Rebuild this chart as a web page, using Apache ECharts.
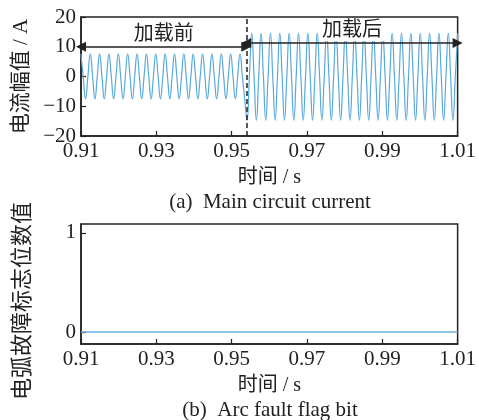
<!DOCTYPE html>
<html>
<head>
<meta charset="utf-8">
<script src="https://cdn.jsdelivr.net/npm/echarts@6/dist/echarts.min.js"></script>
<style>
  html, body { margin: 0; padding: 0; background: #fff; }
  #chart { width: 479px; height: 420px; }
</style>
</head>
<body>
<div id="chart"></div>
<script>
// ---- Data ----
// Sampling grid of the waveform readings (quarter-period readings: peak, zero, trough, zero)
const waveStart = 0.909968;   // s, time of first reading
const waveStep = 0.000621375; // s, spacing between readings

// Current readings before loading (A)
const currentBefore = [
  7.6, 0, -7.5, 0,  7.6, 0, -7.5, 0,  7.6, 0, -7.5, 0,  7.6, 0, -7.5, 0,
  7.6, 0, -7.5, 0,  7.6, 0, -7.5, 0,  7.6, 0, -7.5, 0,  7.6, 0, -7.5, 0,
  7.6, 0, -7.5, 0,  7.6, 0, -7.5, 0,  7.6, 0, -7.5, 0,  7.6, 0, -7.5, 0,
  7.6, 0, -7.5, 0,  7.6, 0, -7.5, 0,  7.6, 0, -7.5, 0,  7.6, 0, -7.5, 0,
  7.6, 0, -7.5, 0,  7.6, 0, -7.5
];
// Current readings after loading (A)
const currentAfter = [
  -14.7, 0, 14.5, 0,  -14.7, 0, 14.5, 0,  -14.7, 0, 14.5, 0,  -14.7, 0, 14.5, 0,
  -14.7, 0, 14.5, 0,  -14.7, 0, 14.5, 0,  -14.7, 0, 14.5, 0,  -14.7, 0, 14.5, 0,
  -14.7, 0, 14.5, 0,  -14.7, 0, 14.5, 0,  -14.7, 0, 14.5, 0,  -14.7, 0, 14.5, 0,
  -14.7, 0, 14.5, 0,  -14.7, 0, 14.5, 0,  -14.7, 0, 14.5, 0,  -14.7, 0, 14.5, 0,
  -14.7, 0, 14.5, 0,  -14.7, 0, 14.5, 0,  -14.7, 0, 14.5, 0,  -14.7, 0, 14.5, 0,
  -14.7, 0, 14.5, 0,  -14.7, 0, 14.5, 0,  -14.7, 0, 14.5
];

// Arc fault flag
const flagTimes = [0.91, 1.01];
const flagValues = [0, 0];

// Axis ticks
const xTicks = [0.91, 0.93, 0.95, 0.97, 0.99, 1.01];
const flagTicks = [0, 1];

// Annotations
const switchTime = 0.9539;
const beforeSpan = [0.91, switchTime];
const afterSpan = [switchTime, 1.01];
const beforeLevel = 10;
const afterLevel = 11.3;
const beforeLabel = '加载前';
const afterLabel = '加载后';

// Texts
const xName = '时间 / s';
const yNameTop = '电流幅值 / A';
const yNameBottom = '电弧故障标志位数值';
const captionTop = '(a)  Main circuit current';
const captionBottom = '(b)  Arc fault flag bit';

// ---- Build ----
const currentValues = currentBefore.concat(currentAfter);
const currentData = currentValues.map((v, i) => [waveStart + i * waveStep, v]);
const flagData = flagTimes.map((t, i) => [t, flagValues[i]]);

const FONT = "'Liberation Serif', 'Noto Sans CJK SC', serif";
const TXT = '#222';
const WAVE = '#5aa9dc';

function xAxisCfg(gi) {
  return {
    type: 'value', gridIndex: gi, min: 0.91, max: 1.01,
    axisLine: { show: true, onZero: false, lineStyle: { color: TXT, width: 1.5 } },
    splitLine: { show: false },
    axisTick: { inside: true, length: 5, customValues: xTicks, lineStyle: { color: TXT, width: 1.2 } },
    axisLabel: { customValues: xTicks, formatter: v => v.toFixed(2), fontSize: 21, margin: 5, color: TXT, fontFamily: FONT },
    name: xName, nameLocation: 'middle', nameGap: 32,
    nameTextStyle: { fontSize: 20, color: TXT, fontFamily: FONT }
  };
}

const option = {
  animation: false,
  backgroundColor: '#fff',
  grid: [
    { left: 81, top: 17, width: 379, height: 119, show: true, borderColor: TXT, borderWidth: 1.5, backgroundColor: 'transparent' },
    { left: 81, top: 224, width: 379, height: 120, show: true, borderColor: TXT, borderWidth: 1.5, backgroundColor: 'transparent' }
  ],
  xAxis: [xAxisCfg(0), xAxisCfg(1)],
  yAxis: [
    {
      type: 'value', gridIndex: 0, min: -20, max: 20, interval: 10,
      axisLine: { show: true, onZero: false, lineStyle: { color: TXT, width: 1.5 } },
      splitLine: { show: false },
      axisTick: { inside: true, length: 5, lineStyle: { color: TXT, width: 1.2 } },
      axisLabel: { formatter: v => String(v).replace('-', '\u2212'), fontSize: 21, margin: 5, color: TXT, fontFamily: FONT },
      name: yNameTop, nameLocation: 'middle', nameGap: 46,
      nameTextStyle: { fontSize: 21, color: TXT, fontFamily: FONT }
    },
    {
      type: 'value', gridIndex: 1, min: -0.12, max: 1.09,
      axisLine: { show: true, onZero: false, lineStyle: { color: TXT, width: 1.5 } },
      splitLine: { show: false },
      axisTick: { inside: true, length: 5, customValues: flagTicks, lineStyle: { color: TXT, width: 1.2 } },
      axisLabel: { customValues: flagTicks, fontSize: 21, margin: 5, color: TXT, fontFamily: FONT }
    }
  ],
  graphic: [
    { type: 'text', x: 23, y: 301, rotation: Math.PI / 2,
      style: { text: yNameBottom, fontSize: 22, fill: TXT, fontFamily: FONT, align: 'center', verticalAlign: 'middle' } },
    { type: 'text', x: 270, y: 202,
      style: { text: captionTop, fontSize: 21, fill: TXT, fontFamily: FONT, align: 'center', verticalAlign: 'middle' } },
    { type: 'text', x: 270, y: 410,
      style: { text: captionBottom, fontSize: 21, fill: TXT, fontFamily: FONT, align: 'center', verticalAlign: 'middle' } }
  ],
  series: [
    {
      type: 'line', xAxisIndex: 0, yAxisIndex: 0, data: currentData,
      showSymbol: false, smooth: 0.5, clip: true,
      lineStyle: { color: WAVE, width: 1.2 },
      markLine: {
        silent: true,
        symbol: ['triangle', 'triangle'], symbolSize: [10, 10],
        lineStyle: { color: TXT, width: 1.5, type: 'solid' },
        label: { show: true, position: 'insideMiddleTop', distance: 2, fontSize: 20, color: TXT, fontFamily: FONT,
                 backgroundColor: '#fff', padding: [0, 2] },
        data: [
          [ { coord: [beforeSpan[0], beforeLevel], label: { formatter: beforeLabel } },
            { coord: [beforeSpan[1], beforeLevel] } ],
          [ { coord: [afterSpan[0], afterLevel], label: { formatter: afterLabel } },
            { coord: [afterSpan[1], afterLevel] } ],
          [ { coord: [switchTime, -20], symbol: 'none', lineStyle: { type: [5, 3], width: 1.5, color: TXT }, label: { show: false } },
            { coord: [switchTime, 20], symbol: 'none' } ]
        ]
      }
    },
    {
      type: 'line', xAxisIndex: 1, yAxisIndex: 1, data: flagData,
      showSymbol: false, lineStyle: { color: '#6ab0de', width: 1.5 }
    }
  ]
};

const chart = echarts.init(document.getElementById('chart'), null, { renderer: 'canvas' });
chart.setOption(option);
</script>
</body>
</html>
